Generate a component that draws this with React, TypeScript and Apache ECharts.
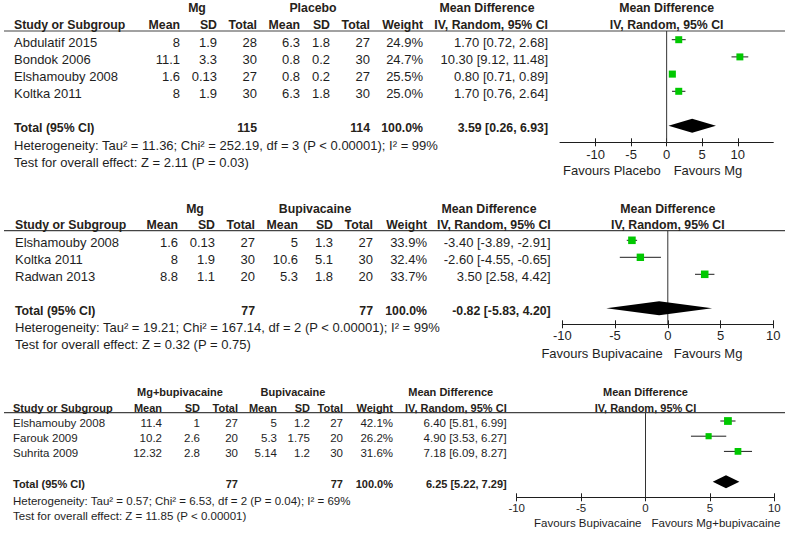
import React, { useEffect, useRef } from 'react';
import * as echarts from 'echarts';

const FONT = 'Arial, "Liberation Sans", Helvetica, sans-serif';
const GREEN = '#00c800';
const INK = '#1e1e1e';

const tickValues = [-10, -5, 0, 5, 10];
const colHeaders = ['Study or Subgroup', 'Mean', 'SD', 'Total', 'Mean', 'SD', 'Total', 'Weight'];
const mdHeaders = ['Mean Difference', 'IV, Random, 95% CI'];
const totalLabel = 'Total (95% CI)';

// ---------- Panel 1: Mg vs Placebo ----------
const p1Groups = ['Mg', 'Placebo'];
const p1Studies = ['Abdulatif 2015', 'Bondok 2006', 'Elshamouby 2008', 'Koltka 2011'];
const p1ExpMean = [8, 11.1, 1.6, 8];
const p1ExpSD = [1.9, 3.3, 0.13, 1.9];
const p1ExpN = [28, 30, 27, 30];
const p1CtlMean = [6.3, 0.8, 0.8, 6.3];
const p1CtlSD = [1.8, 0.2, 0.2, 1.8];
const p1CtlN = [27, 30, 27, 30];
const p1Weight = [24.9, 24.7, 25.5, 25.0];
const p1MD = [1.7, 10.3, 0.8, 1.7];
const p1Lo = [0.72, 9.12, 0.71, 0.76];
const p1Hi = [2.68, 11.48, 0.89, 2.64];
const p1Total = [115, 114, 3.59, 0.26, 6.93];
const p1Het = 'Heterogeneity: Tau\u00b2 = 11.36; Chi\u00b2 = 252.19, df = 3 (P < 0.00001); I\u00b2 = 99%';
const p1Test = 'Test for overall effect: Z = 2.11 (P = 0.03)';
const p1Favours = ['Favours Placebo', 'Favours Mg'];

// ---------- Panel 2: Mg vs Bupivacaine ----------
const p2Groups = ['Mg', 'Bupivacaine'];
const p2Studies = ['Elshamouby 2008', 'Koltka 2011', 'Radwan 2013'];
const p2ExpMean = [1.6, 8, 8.8];
const p2ExpSD = [0.13, 1.9, 1.1];
const p2ExpN = [27, 30, 20];
const p2CtlMean = [5, 10.6, 5.3];
const p2CtlSD = [1.3, 5.1, 1.8];
const p2CtlN = [27, 30, 20];
const p2Weight = [33.9, 32.4, 33.7];
const p2MD = [-3.4, -2.6, 3.5];
const p2Lo = [-3.89, -4.55, 2.58];
const p2Hi = [-2.91, -0.65, 4.42];
const p2Total = [77, 77, -0.82, -5.83, 4.2];
const p2Het = 'Heterogeneity: Tau\u00b2 = 19.21; Chi\u00b2 = 167.14, df = 2 (P < 0.00001); I\u00b2 = 99%';
const p2Test = 'Test for overall effect: Z = 0.32 (P = 0.75)';
const p2Favours = ['Favours Bupivacaine', 'Favours Mg'];

// ---------- Panel 3: Mg+bupivacaine vs Bupivacaine ----------
const p3Groups = ['Mg+bupivacaine', 'Bupivacaine'];
const p3Studies = ['Elshamouby 2008', 'Farouk 2009', 'Suhrita 2009'];
const p3ExpMean = [11.4, 10.2, 12.32];
const p3ExpSD = [1, 2.6, 2.8];
const p3ExpN = [27, 20, 30];
const p3CtlMean = [5, 5.3, 5.14];
const p3CtlSD = [1.2, 1.75, 1.2];
const p3CtlN = [27, 20, 30];
const p3Weight = [42.1, 26.2, 31.6];
const p3MD = [6.4, 4.9, 7.18];
const p3Lo = [5.81, 3.53, 6.09];
const p3Hi = [6.99, 6.27, 8.27];
const p3Total = [77, 77, 6.25, 5.22, 7.29];
const p3Het = 'Heterogeneity: Tau\u00b2 = 0.57; Chi\u00b2 = 6.53, df = 2 (P = 0.04); I\u00b2 = 69%';
const p3Test = 'Test for overall effect: Z = 11.85 (P < 0.00001)';
const p3Favours = ['Favours Bupivacaine', 'Favours Mg+bupivacaine'];

const panelsData = [
  { groups: p1Groups, studies: p1Studies, em: p1ExpMean, es: p1ExpSD, en: p1ExpN, cm: p1CtlMean, cs: p1CtlSD, cn: p1CtlN, w: p1Weight, md: p1MD, lo: p1Lo, hi: p1Hi, total: p1Total, het: p1Het, test: p1Test, fav: p1Favours },
  { groups: p2Groups, studies: p2Studies, em: p2ExpMean, es: p2ExpSD, en: p2ExpN, cm: p2CtlMean, cs: p2CtlSD, cn: p2CtlN, w: p2Weight, md: p2MD, lo: p2Lo, hi: p2Hi, total: p2Total, het: p2Het, test: p2Test, fav: p2Favours },
  { groups: p3Groups, studies: p3Studies, em: p3ExpMean, es: p3ExpSD, en: p3ExpN, cm: p3CtlMean, cs: p3CtlSD, cn: p3CtlN, w: p3Weight, md: p3MD, lo: p3Lo, hi: p3Hi, total: p3Total, het: p3Het, test: p3Test, fav: p3Favours },
];

// layout (pixels)
const layouts = [
  { font: 13, bfont: 12.3, hy1: 8, hy2: 25, top: 31, firstRow: 39.7, rowH: 17.2, totalIdx: 5, axisY: 142.3, left: 560, right: 773.3, xMin: -15, xMax: 15, cols: [14, 180, 217, 257, 300, 330, 370, 423, 548], groupX: [197, 313], mdX: 487, hetY: 145, testY: 162, favY: 170, favGap: [6, 7], sqK: 1.4, dh: 7, labelMargin: 6, txtOff: 2.5 },
  { font: 13, bfont: 12.3, hy1: 209.3, hy2: 225, top: 230.7, firstRow: 240.3, rowH: 17, totalIdx: 4, axisY: 324.3, left: 562.3, right: 773.3, xMin: -10, xMax: 10, cols: [15, 178, 215, 255, 298, 333, 373, 427, 550.7], groupX: [195, 315], mdX: 489, hetY: 327, testY: 344, favY: 353, favGap: [5, 6], sqK: 1.3, dh: 7, labelMargin: 5, txtOff: 2.5 },
  { font: 11.5, bfont: 11, hy1: 392, hy2: 407.7, top: 412.7, firstRow: 421, rowH: 15.2, totalIdx: 4, axisY: 497.3, left: 516.7, right: 774.3, xMin: -10, xMax: 10, cols: [13, 162, 200, 238, 277, 310, 343, 393, 506.7], groupX: [180, 293], mdX: 450.7, hetY: 501, testY: 516, favY: 523, favGap: [4, 6], sqK: 1.2, dh: 6.5, labelMargin: 5, txtOff: 2 },
];

const f2 = (v: number) => v.toFixed(2);
const ciText = (m: number, l: number, h: number) => `${f2(m)} [${f2(l)}, ${f2(h)}]`;

function txt(text: string, x: number, y: number, size: number, align: string, bold = false) {
  return {
    type: 'text',
    x,
    y,
    silent: true,
    style: {
      text,
      fill: bold ? '#262219' : INK,
      fontSize: size,
      fontWeight: bold ? 'bold' : 'normal',
      fontFamily: FONT,
      textAlign: align,
      align,
      textVerticalAlign: 'middle',
      verticalAlign: 'middle',
    },
  };
}

function buildOption() {
  const grid: any[] = [];
  const xAxis: any[] = [];
  const yAxis: any[] = [];
  const series: any[] = [];
  const graphic: any[] = [];

  layouts.forEach((L, i) => {
    const D = panelsData[i];
    const yMin = -(L.firstRow - L.top) / L.rowH;
    const yMax = yMin + (L.axisY - L.top) / L.rowH;
    const zeroX = L.left + ((0 - L.xMin) / (L.xMax - L.xMin)) * (L.right - L.left);

    grid.push({ left: L.left, top: L.top, width: L.right - L.left, height: L.axisY - L.top, containLabel: false });
    yAxis.push({ type: 'value', gridIndex: i, min: yMin, max: yMax, inverse: true, show: false });
    xAxis.push({
      type: 'value', gridIndex: i, min: L.xMin, max: L.xMax, interval: 5, position: 'bottom',
      axisLine: { show: true, onZero: false, lineStyle: { color: INK, width: 1 } },
      axisTick: { show: true, length: 4, customValues: tickValues, lineStyle: { color: INK, width: 1 } },
      axisLabel: { show: true, customValues: tickValues, margin: L.labelMargin, fontSize: L.font, color: INK, fontFamily: FONT },
      splitLine: { show: false },
    });
    xAxis.push({
      type: 'value', gridIndex: i, min: L.xMin, max: L.xMax, interval: 5, position: 'bottom',
      axisLine: { show: false, onZero: false },
      axisTick: { show: true, inside: true, length: 4, customValues: tickValues, lineStyle: { color: INK, width: 1 } },
      axisLabel: { show: false },
      splitLine: { show: false },
    });

    const xi = i * 2;
    // zero line
    series.push({
      type: 'custom', xAxisIndex: xi, yAxisIndex: i, silent: true, clip: false,
      data: [[0]],
      renderItem: (_p: any, api: any) => {
        const a = api.coord([api.value(0), yMin]);
        const b = api.coord([api.value(0), yMax]);
        return { type: 'line', shape: { x1: a[0], y1: a[1], x2: b[0], y2: b[1] }, style: { stroke: '#333', lineWidth: 1 } };
      },
    });
    // studies
    series.push({
      type: 'custom', xAxisIndex: xi, yAxisIndex: i, silent: true, clip: false,
      data: D.md.map((m, k) => [m, D.lo[k], D.hi[k], k, D.w[k]]),
      renderItem: (_p: any, api: any) => {
        const row = api.value(3);
        const c = api.coord([api.value(0), row]);
        const l = api.coord([api.value(1), row]);
        const h = api.coord([api.value(2), row]);
        const s = L.sqK * Math.sqrt(api.value(4));
        return {
          type: 'group',
          children: [
            { type: 'line', shape: { x1: l[0], y1: l[1], x2: h[0], y2: h[1] }, style: { stroke: INK, lineWidth: 1 } },
            { type: 'rect', shape: { x: c[0] - s / 2, y: c[1] - s / 2, width: s, height: s }, style: { fill: GREEN } },
          ],
        };
      },
    });
    // diamond
    series.push({
      type: 'custom', xAxisIndex: xi, yAxisIndex: i, silent: true, clip: false,
      data: [[D.total[2], D.total[3], D.total[4], L.totalIdx]],
      renderItem: (_p: any, api: any) => {
        const row = api.value(3);
        const c = api.coord([api.value(0), row]);
        const l = api.coord([api.value(1), row]);
        const h = api.coord([api.value(2), row]);
        return {
          type: 'polygon',
          shape: { points: [[l[0], c[1]], [c[0], c[1] - L.dh], [h[0], c[1]], [c[0], c[1] + L.dh]] },
          style: { fill: '#000' },
        };
      },
    });

    // header line
    graphic.push({ type: 'line', silent: true, shape: { x1: 4, y1: L.top, x2: 785, y2: L.top }, style: { stroke: '#444', lineWidth: 1.2 } });

    const fs = L.font;
    const bf = L.bfont;
    // group headers
    graphic.push(txt(D.groups[0], L.groupX[0], L.hy1, bf, 'center', true));
    graphic.push(txt(D.groups[1], L.groupX[1], L.hy1, bf, 'center', true));
    graphic.push(txt(mdHeaders[0], L.mdX, L.hy1, bf, 'center', true));
    graphic.push(txt(mdHeaders[1], L.cols[8], L.hy2, bf, 'right', true));
    graphic.push(txt(mdHeaders[0], zeroX, L.hy1, bf, 'center', true));
    graphic.push(txt(mdHeaders[1], zeroX, L.hy2, bf, 'center', true));
    colHeaders.forEach((h, k) => {
      graphic.push(txt(h, L.cols[k], L.hy2, bf, k === 0 ? 'left' : 'right', true));
    });

    // rows
    D.studies.forEach((s, k) => {
      const y = L.firstRow + k * L.rowH + L.txtOff;
      const vals = [String(D.em[k]), String(D.es[k]), String(D.en[k]), String(D.cm[k]), String(D.cs[k]), String(D.cn[k]), D.w[k].toFixed(1) + '%', ciText(D.md[k], D.lo[k], D.hi[k])];
      graphic.push(txt(s, L.cols[0], y, fs, 'left'));
      vals.forEach((v, j) => graphic.push(txt(v, L.cols[j + 1], y, fs, 'right')));
    });

    // total row
    const ty = L.firstRow + L.totalIdx * L.rowH + L.txtOff;
    graphic.push(txt(totalLabel, L.cols[0], ty, bf, 'left', true));
    graphic.push(txt(String(D.total[0]), L.cols[3], ty, bf, 'right', true));
    graphic.push(txt(String(D.total[1]), L.cols[6], ty, bf, 'right', true));
    graphic.push(txt('100.0%', L.cols[7], ty, bf, 'right', true));
    graphic.push(txt(ciText(D.total[2], D.total[3], D.total[4]), L.cols[8], ty, bf, 'right', true));

    graphic.push(txt(D.het, L.cols[0], L.hetY, fs, 'left'));
    graphic.push(txt(D.test, L.cols[0], L.testY, fs, 'left'));

    graphic.push(txt(D.fav[0], zeroX - L.favGap[0], L.favY, fs, 'right'));
    graphic.push(txt(D.fav[1], zeroX + L.favGap[1], L.favY, fs, 'left'));
  });

  return {
    animation: false,
    backgroundColor: '#ffffff',
    textStyle: { fontFamily: FONT },
    grid,
    xAxis,
    yAxis,
    series,
    graphic,
  };
}

export default function App() {
  const ref = useRef<HTMLDivElement>(null);
  useEffect(() => {
    if (!ref.current) return;
    const chart = echarts.init(ref.current, undefined, { renderer: 'svg' });
    chart.setOption(buildOption() as any);
    return () => chart.dispose();
  }, []);
  return (
    <div
      ref={ref}
      style={{ position: 'fixed', left: 0, top: 0, width: 787, height: 537, background: '#fff' }}
    />
  );
}
